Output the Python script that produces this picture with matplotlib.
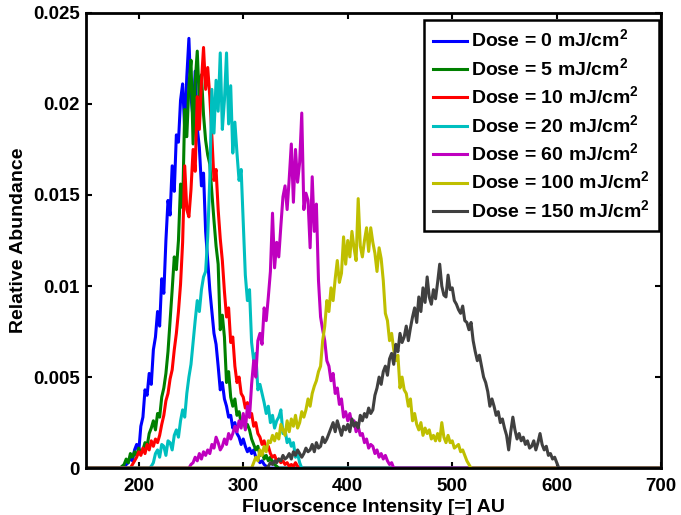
import numpy as np
import matplotlib
matplotlib.use("Agg")
import matplotlib.pyplot as plt

plt.rcParams['font.family'] = ['Liberation Sans', 'DejaVu Sans']
plt.rcParams['font.weight'] = 'bold'
plt.rcParams['mathtext.fontset'] = 'custom'
plt.rcParams['mathtext.bf'] = 'Liberation Sans:bold'
plt.rcParams['mathtext.rm'] = 'Liberation Sans:bold'

# ---- data (values in units of 1e-3 relative abundance, bins every 2 AU) ----
step = 2
labels = ["Dose = 0 mJ/cm$^\\mathbf{2}$", "Dose = 5 mJ/cm$^\\mathbf{2}$",
          "Dose = 10 mJ/cm$^\\mathbf{2}$", "Dose = 20 mJ/cm$^\\mathbf{2}$",
          "Dose = 60 mJ/cm$^\\mathbf{2}$", "Dose = 100 mJ/cm$^\\mathbf{2}$",
          "Dose = 150 mJ/cm$^\\mathbf{2}$"]
colors = [(0, 0, 1), (0, 0.5, 0), (1, 0, 0), (0, 0.75, 0.75),
          (0.75, 0, 0.75), (0.75, 0.75, 0), (0.25, 0.25, 0.25)]

start_0 = 186
dose_0 = [0, 0.2, 0.3, 0.6, 0.4, 1.0, 1.3, 0.9, 2.3, 2.8, 4.3, 4.0, 5.2, 4.6, 6.5, 7.2,
          8.6, 7.8, 10.4, 9.6, 12.5, 14.7, 13.9, 16.6, 15.2, 18.3, 17.9, 20.2, 21.1, 18.6,
          21.5, 23.6, 20.4, 19.2, 21.8, 18.7, 17.6, 15.5, 16.2, 13.0, 11.4, 9.8, 8.6, 7.4,
          6.8, 5.6, 4.3, 4.7, 3.8, 3.4, 2.8, 2.9, 2.2, 2.5, 1.9, 1.7, 1.3, 1.6, 1.2, 0.9,
          1.1, 0.8, 1.0, 0.6, 0.5, 0.3, 0.4, 0.2, 0.1, 0]

start_5 = 184
dose_5 = [0.1, 0.2, 0.5, 0.3, 0.8, 0.6, 0.9, 0.7, 1.1, 0.8, 1.0, 1.4, 1.2, 1.9, 2.2, 2.6,
          2.1, 3.0, 2.8, 3.9, 4.4, 5.2, 6.4, 8.1, 9.8, 11.6, 10.9, 12.5, 15.6, 14.3, 19.7,
          18.2, 21.0, 22.4, 17.8, 21.2, 22.9, 20.1, 21.6, 19.4, 18.0, 17.2, 16.7, 15.1, 13.6,
          12.2, 11.2, 7.6, 8.4, 7.2, 4.7, 5.3, 3.9, 3.4, 3.8, 2.9, 3.1, 2.5, 2.7, 2.2, 2.4,
          2.1, 1.6, 1.3, 1.0, 1.2, 0.7, 0.9, 0.5, 0.7, 0.4, 0.6, 0.3, 0.2, 0.1, 0]

start_10 = 194
dose_10 = [0.2, 0.4, 0.6, 0.9, 0.7, 1.1, 0.8, 1.3, 1.0, 1.5, 1.2, 1.6, 1.4, 1.8, 2.4, 2.9,
           3.7, 4.1, 4.9, 5.4, 6.5, 7.4, 8.6, 10.1, 12.4, 16.6, 14.2, 13.8, 15.3, 17.5, 16.3,
           20.4, 18.6, 21.2, 23.1, 20.8, 22.0, 20.4, 18.2, 15.8, 16.4, 14.2, 12.6, 11.4, 9.7,
           8.3, 8.8, 6.9, 7.2, 5.6, 4.7, 5.0, 4.1, 3.9, 3.3, 3.6, 2.8, 3.0, 2.3, 2.5, 1.9,
           1.7, 1.3, 1.5, 1.0, 1.2, 0.8, 0.6, 0.7, 0.4, 0.5, 0.3, 0.4, 0.2, 0.3, 0.1, 0.2,
           0.1, 0.3, 0.1, 0]

start_20 = 212
dose_20 = [0.1, 0.3, 0.8, 1.0, 0.6, 1.3, 1.2, 0.7, 1.5, 1.4, 1.0, 1.8, 2.1, 1.7, 2.6, 3.2,
           2.8, 4.1, 5.0, 5.7, 6.9, 8.1, 9.2, 8.6, 9.8, 10.5, 10.8, 12.7, 15.9, 20.8, 18.4,
           21.3, 19.6, 22.8, 18.6, 20.2, 22.8, 18.9, 21.0, 17.3, 19.0, 17.3, 15.8, 16.4, 13.5,
           10.6, 9.2, 9.8, 6.9, 5.9, 6.3, 4.3, 4.6, 4.1, 3.6, 3.0, 3.4, 2.5, 2.9, 2.2, 2.6,
           2.8, 3.2, 1.9, 2.1, 1.4, 1.6, 1.2, 1.4, 0.6, 0.8, 0.3, 0]

start_60 = 250
dose_60 = [0.2, 0.3, 0.6, 0.4, 0.8, 0.5, 0.9, 0.7, 1.0, 0.8, 1.3, 1.1, 1.7, 1.4, 1.0, 1.2,
           1.6, 1.3, 1.9, 1.6, 1.9, 2.3, 2.0, 2.6, 2.2, 3.0, 2.1, 3.4, 2.8, 4.6, 5.9, 5.0,
           7.0, 7.4, 6.8, 8.8, 8.1, 9.4, 10.8, 14.0, 11.0, 12.4, 11.6, 13.3, 14.9, 15.5, 14.2,
           15.9, 17.8, 14.6, 17.5, 15.7, 16.8, 19.5, 14.2, 15.1, 14.7, 12.1, 16.0, 13.0, 14.5,
           10.3, 8.3, 7.6, 7.0, 5.9, 5.6, 4.8, 5.2, 4.1, 4.4, 3.5, 3.8, 2.8, 3.1, 2.6, 3.0,
           2.4, 2.6, 2.0, 2.3, 1.8, 1.9, 1.4, 1.6, 1.1, 1.3, 1.2, 0.8, 1.0, 0.6, 0.8, 0.5,
           0.7, 0.4, 0.2, 0.3, 0]

start_100 = 310
dose_100 = [0.3, 0.6, 0.4, 1.0, 0.7, 1.2, 0.9, 1.5, 1.4, 1.8, 1.5, 1.9, 1.6, 2.4, 2.1, 1.8,
            2.6, 2.0, 2.7, 2.3, 2.9, 2.2, 2.5, 3.1, 2.8, 3.2, 3.8, 3.4, 4.1, 4.5, 4.8, 5.3,
            5.6, 7.0, 7.8, 9.2, 8.6, 9.9, 9.2, 10.4, 11.4, 10.2, 10.7, 12.7, 11.2, 12.5, 11.6,
            13.0, 12.1, 11.4, 14.8, 12.2, 11.6, 12.5, 13.2, 11.9, 13.2, 12.4, 11.8, 10.8, 12.1,
            11.5, 10.3, 8.5, 8.1, 7.0, 7.4, 6.5, 5.9, 6.2, 4.4, 5.0, 4.3, 4.1, 3.4, 3.8, 2.6,
            3.0, 2.4, 2.1, 2.5, 1.8, 2.2, 1.9, 2.1, 1.6, 1.8, 1.5, 1.9, 1.5, 2.5, 1.7, 1.4,
            1.8, 1.4, 1.5, 1.1, 1.2, 1.3, 0.9, 1.0, 0.7, 0.4, 0.2, 0]

start_150 = 324
dose_150 = [0.1, 0.3, 0.2, 0.4, 0.3, 0.5, 0.4, 0.7, 0.5, 0.6, 0.8, 0.5, 0.9, 0.7, 1.0, 0.8,
            0.6, 0.8, 1.1, 0.9, 1.0, 1.3, 0.9, 1.4, 1.1, 1.2, 1.7, 1.4, 1.6, 1.9, 2.2, 2.5,
            2.0, 2.6, 2.2, 1.8, 2.3, 2.1, 2.4, 2.0, 2.7, 2.3, 2.5, 2.2, 2.9, 2.6, 3.0, 2.8,
            3.3, 3.0, 3.2, 4.0, 4.4, 5.0, 4.6, 5.3, 5.6, 5.1, 6.0, 6.3, 5.7, 6.8, 6.4, 7.4,
            6.9, 7.2, 7.8, 7.0, 7.7, 8.3, 8.8, 8.0, 9.4, 8.6, 9.9, 9.1, 10.5, 9.4, 9.0, 9.8,
            9.3, 10.2, 11.2, 10.0, 9.5, 9.4, 10.6, 9.8, 9.9, 9.2, 9.0, 8.7, 8.5, 8.9, 8.1,
            8.0, 7.6, 8.0, 7.0, 6.4, 5.9, 6.2, 5.6, 5.0, 4.7, 4.2, 3.4, 3.8, 3.4, 2.9, 3.1,
            2.5, 2.7, 2.2, 1.8, 1.0, 2.0, 2.8, 2.1, 1.6, 1.9, 1.5, 1.7, 1.3, 1.5, 1.1, 1.2,
            1.5, 1.0, 1.4, 1.9, 1.3, 1.0, 1.2, 0.7, 0.8, 0.5, 0.6, 0.3, 0]

starts = [start_0, start_5, start_10, start_20, start_60, start_100, start_150]
series = [dose_0, dose_5, dose_10, dose_20, dose_60, dose_100, dose_150]

x_min, x_max = 150, 700
xticks = [200, 300, 400, 500, 600, 700]
yticks = [0, 0.005, 0.01, 0.015, 0.02, 0.025]
ytick_labels = ["0", "0.005", "0.01", "0.015", "0.02", "0.025"]

fig = plt.figure(figsize=(6.81, 5.15), dpi=100)
ax = fig.add_axes([0.127, 0.091, 0.844, 0.884])

grid = np.arange(x_min, x_max + step, step)
for s0, vals, col, lab in zip(starts, series, colors, labels):
    y = np.zeros_like(grid, dtype=float)
    idx0 = (s0 - x_min) // step
    y[idx0:idx0 + len(vals)] = np.array(vals) * 1e-3
    ax.plot(grid, y, color=col, lw=2.2, label=lab)

ax.set_xlim(x_min, x_max)
ax.set_ylim(0, 0.025)
ax.set_xticks(xticks)
ax.set_yticks(yticks)
ax.set_yticklabels(ytick_labels)
ax.tick_params(direction='in', length=4, width=1.5, top=True, right=True,
               labelsize=13.5, pad=5)
ax.tick_params(axis='x', pad=7)
for lab in ax.get_xticklabels() + ax.get_yticklabels():
    lab.set_fontweight('bold')
for sp in ax.spines.values():
    sp.set_linewidth(2)
ax.set_xlabel("Fluorscence Intensity [=] AU", fontsize=14, fontweight='bold', labelpad=3)
ax.set_ylabel("Relative Abundance", fontsize=14, fontweight='bold', labelpad=4)

leg = ax.legend(loc='upper right', bbox_to_anchor=(659 / 681, 1 - 20 / 515),
                bbox_transform=fig.transFigure, borderaxespad=0,
                fontsize=14, frameon=True, fancybox=False,
                edgecolor='black', framealpha=1, handlelength=1.75, labelspacing=0.3,
                handletextpad=0.25, borderpad=0.45)
leg.get_frame().set_linewidth(1.8)
for t in leg.get_texts():
    t.set_fontweight('bold')

fig.savefig("out.png", dpi=100)
